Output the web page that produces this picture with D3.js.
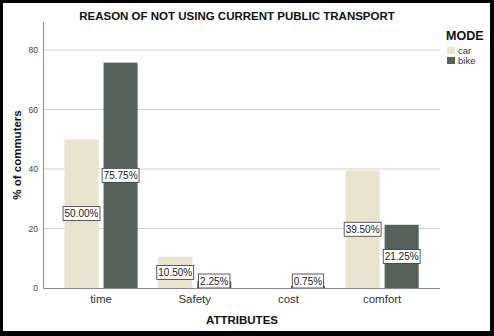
<!DOCTYPE html>
<html><head><meta charset="utf-8">
<script src="https://cdn.jsdelivr.net/npm/d3@7"></script>
<style>body{margin:0;background:#000}svg{display:block}</style>
</head><body>
<svg id="c" width="494" height="336"></svg>
<script>
const categories = ["time", "Safety", "cost", "comfort"];
const modes = ["car", "bike"];
const carValues = [50.00, 10.50, 0.00, 39.50];
const bikeValues = [75.75, 2.25, 0.75, 21.25];
const yTicks = [0, 20, 40, 60, 80];
const colors = {car: "#EAE3CE", bike: "#58625C"};

const svg = d3.select("#c");
svg.append("rect").attr("width",494).attr("height",336).attr("fill","#000");
svg.append("rect").attr("x",3).attr("y",3).attr("width",487).attr("height",328).attr("fill","#fff");

const font = "Arial, 'Liberation Sans', sans-serif";
const y = d3.scaleLinear().domain([0,80]).range([288,50]);
const x0 = d3.scaleBand().domain(categories).range([54.2,429]).paddingInner(0.22).paddingOuter(0.11);
const x1 = d3.scaleBand().domain(modes).range([0, x0.bandwidth()]).paddingInner(0.128);

// grid
svg.append("g").selectAll("line").data(yTicks.filter(d=>d>0)).join("line")
  .attr("x1",43).attr("x2",440).attr("y1",d=>y(d)).attr("y2",d=>y(d))
  .attr("stroke","#d0d0d0").attr("stroke-width",1);

// y axis
const yAxis = d3.axisLeft(y).tickValues(yTicks).tickSize(0).tickPadding(5);
const ga = svg.append("g").attr("transform","translate(43,0)").call(yAxis);
ga.select(".domain").remove();
ga.selectAll("text").attr("font-family",font).attr("font-size",8.5).attr("fill","#444");
svg.append("line").attr("x1",43.5).attr("x2",43.5).attr("y1",22).attr("y2",288).attr("stroke","#888");

const data = categories.map((c,i)=>({cat:c, vals:[{m:"car",v:carValues[i]},{m:"bike",v:bikeValues[i]}]}));

const groups = svg.append("g").selectAll("g").data(data).join("g")
  .attr("transform",d=>`translate(${x0(d.cat)},0)`);

groups.selectAll("rect").data(d=>d.vals).join("rect")
  .attr("x",d=>x1(d.m)).attr("width",x1.bandwidth())
  .attr("y",d=>y(d.v)).attr("height",d=>y(0)-y(d.v))
  .attr("fill",d=>colors[d.m]);

// x axis baseline
svg.append("line").attr("x1",43).attr("x2",440).attr("y1",288.5).attr("y2",288.5).attr("stroke","#888");

// labels
const lab = groups.selectAll("g.lab").data(d=>d.vals.filter(v=>v.v>0)).join("g").attr("class","lab");
lab.each(function(d){
  const g = d3.select(this);
  let cy = y(d.v/2);
  cy = Math.min(cy, 281);
  const cx = x1(d.m) + x1.bandwidth()/2;
  const t = g.append("text").attr("x",cx).attr("y",cy+3.6).attr("text-anchor","middle")
    .attr("font-family",font).attr("font-size",10).attr("fill","#222")
    .text(d.v.toFixed(2)+"%");
  const w = t.node().getComputedTextLength()+3;
  g.insert("rect","text").attr("x",cx-w/2).attr("y",cy-7).attr("width",w).attr("height",14)
    .attr("fill","#fff").attr("stroke","#333").attr("stroke-width",0.8);
});

// x tick labels
svg.append("g").selectAll("text").data(categories).join("text")
  .attr("x",d=>x0(d)+x0.bandwidth()/2).attr("y",303).attr("text-anchor","middle")
  .attr("font-family",font).attr("font-size",11.5).attr("fill","#333").text(d=>d);

// titles
svg.append("text").attr("x",237).attr("y",20).attr("text-anchor","middle")
  .attr("font-family",font).attr("font-weight","bold").attr("font-size",11.5).attr("fill","#111")
  .text("REASON OF NOT USING CURRENT PUBLIC TRANSPORT");
svg.append("text").attr("x",242).attr("y",324).attr("text-anchor","middle")
  .attr("font-family",font).attr("font-weight","bold").attr("font-size",11.5).attr("fill","#111")
  .text("ATTRIBUTES");
svg.append("text").attr("transform","translate(21,155) rotate(-90)").attr("text-anchor","middle")
  .attr("font-family",font).attr("font-weight","bold").attr("font-size",11.5).attr("fill","#111")
  .text("% of commuters");

// legend
svg.append("text").attr("x",446).attr("y",40).attr("font-family",font).attr("font-weight","bold")
  .attr("font-size",12.5).attr("fill","#111").text("MODE");
const lg = svg.append("g").selectAll("g").data(modes).join("g")
  .attr("transform",(d,i)=>`translate(447,${47+i*10})`);
lg.append("rect").attr("width",8).attr("height",7).attr("fill",d=>colors[d]);
lg.append("text").attr("x",11).attr("y",7).attr("font-family",font).attr("font-size",9.5).attr("fill","#333").text(d=>d);
</script>
</body></html>
